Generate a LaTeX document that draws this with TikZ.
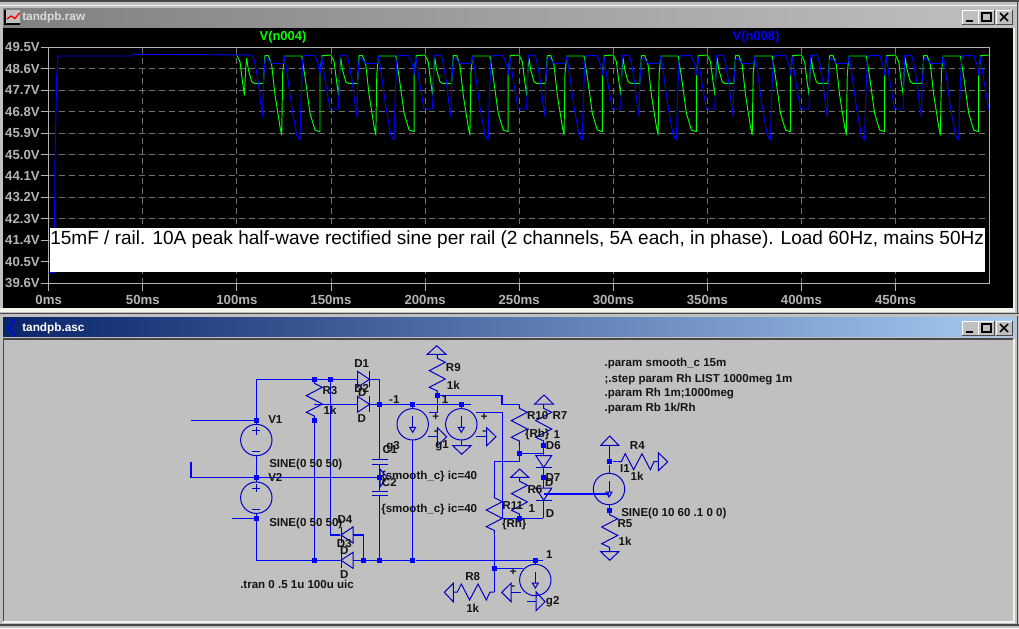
\documentclass[tikz,border=0pt]{standalone}
\usepackage{fontspec}
\setmainfont{Liberation Sans}
\definecolor{winbg}{HTML}{C0C0C0}
\definecolor{wireblue}{HTML}{0000FF}
\definecolor{partblue}{HTML}{0000C4}
\definecolor{framegray}{HTML}{B4B4B4}
\definecolor{griddash}{HTML}{707070}
\definecolor{cream}{HTML}{F4F2EA}
\definecolor{edgedark}{HTML}{484848}
\definecolor{titlelow}{HTML}{0A246A}
\definecolor{titlehigh}{HTML}{A6CAF0}
\definecolor{titledim}{HTML}{808080}
\tikzset{
    wire/.style={draw=wireblue,line width=1pt},
    part/.style={draw=partblue,line width=.75pt,line join=miter},
    dot/.style={rectangle,fill=wireblue,minimum size=3.8pt,inner sep=0pt},
    lbl/.style={font=\bfseries\fontsize{8.65}{10}\selectfont,text=black!92,inner sep=0pt},
    ticklbl/.style={font=\bfseries\fontsize{9.9}{11}\selectfont,text=framegray,inner sep=0pt},
    titlelbl/.style={font=\bfseries\fontsize{8.85}{10}\selectfont,inner sep=0pt,anchor=west},
    trace/.style={line width=.72pt,line join=round},
    gridline/.style={draw=griddash,line width=.75pt,dash pattern=on 5pt off 2.5pt},
    vres/.pic={\draw[part] (0,0) -- (0,4) -- (8,8) -- (-8,16.3) -- (8,24.7) -- (-8,33) -- (0,36.7) -- (0,41);},
    diode/.pic={\draw[part] (-6,-8) -- (6,0) -- (-6,8) -- cycle;
        \draw[part] (6,-8) -- (6,8);},
    vsrc/.pic={\draw[part,fill=winbg] (0,0) circle (15.7);
        \draw[part] (-4,-9.3) -- (4,-9.3);
        \draw[part] (0,-13.3) -- (0,-5.3);
        \draw[part] (-4,11.7) -- (4,11.7);},
    isrc/.pic={\draw[part,fill=winbg] (0,0) circle (15.7);
        \draw[part] (0,-8) -- (0,3);
        \draw[part] (-3,3) -- (3,3) -- (0,8) -- cycle;},
}
\newcommand{\greenrun}{(0,55) -- (3.3,61.7) -- (6,83.3) -- (7.7,95) -- (9,68.3) -- (10,58.3) -- (11.7,70) -- (15,81.7) -- (17.3,83.3) -- (26.7,83.3) -- (28.3,55.7) -- (31.7,55.7) -- (35,65) -- (38.3,95) -- (43.3,126.7) -- (45,135) -- (46,73.3) -- (47.7,56) -- (65,56) -- (68.3,76.7) -- (73.3,113.3) -- (78.3,130) -- (83.3,131.7) -- (83.3,73.3) -- (85.3,55.7) -- (94.1,55)}
\newcommand{\bluerun}{(0,55) -- (2.3,63.3) -- (5.7,83.3) -- (8,103.3) -- (10,116.7) -- (10.7,83.3) -- (12.3,60) -- (14,58) -- (19,63.3) -- (30.7,63.3) -- (31.7,56) -- (34,70) -- (39,106.7) -- (44,135) -- (47.3,140) -- (48.3,100) -- (50,60) -- (51.3,55.7) -- (62.3,55.7) -- (65.7,65) -- (67.3,75) -- (69,56.7) -- (72.3,80) -- (77.3,109) -- (85.7,109) -- (87.3,55.7) -- (94.1,55)}
\begin{document}
\begin{tikzpicture}[x=.75pt,y=-.75pt]
    \useasboundingbox (0,0) rectangle (1019,628);
    \fill[winbg] (0,0) rectangle (1019,628);
    % window frames
    \fill[edgedark] (0,0) rectangle (1019,2);
    \fill[cream] (0,4.7) rectangle (1017,6.3);
    \fill[edgedark] (1016.7,0) rectangle (1018,314);
    \fill[cream] (1012.7,28) rectangle (1015,312);
    \fill[cream] (0,308) rectangle (1015,312);
    \fill[edgedark] (0,312.5) rectangle (1019,314);
    \fill[edgedark] (1016.7,316) rectangle (1018,626);
    \fill[cream] (1012.7,339) rectangle (1015,622.7);
    \fill[cream] (3,620.7) rectangle (1015,622.7);
    \fill[edgedark] (0,624) rectangle (1019,626);
    \fill[edgedark] (3,338) rectangle (1013,339.5);
    \fill[edgedark] (3,338) rectangle (4.3,620.7);
    \shade[left color=titledim,right color=winbg] (3,8) rectangle (1015,27);
    \shade[left color=titlelow,right color=titlehigh] (3,317) rectangle (1015,336);
    % title bars
    \fill[winbg] (4,10) rectangle (20,25);
    \draw[black,line width=.8pt] (5,10) -- (5,24) -- (20,24);
    \draw[red,line width=1pt] (7,19) -- (11,16) -- (15,18.5) -- (19.5,13);
    \node[titlelbl,text=black!14] (rawtitle) at (22,17.5) {tandpb.raw};
    \draw[wireblue,line width=1pt] (15,320) .. controls (10,322) and (13,326) .. (8,328) .. controls (13,330) and (10,334) .. (16,335);
    \node[titlelbl,text=white] (asctitle) at (22,328) {tandpb.asc};
    \foreach \yb in {10,321} {
        \foreach \xb in {962,978,996} {
            \fill[winbg] (\xb,\yb) rectangle ++(16,14);
            \draw[white,line width=.75pt] (\xb,\yb+14) -- (\xb,\yb) -- (\xb+16,\yb);
            \draw[black!70,line width=.75pt] (\xb+16,\yb) -- (\xb+16,\yb+14) -- (\xb,\yb+14);
        }
        \draw[black,line width=1.4pt] (966,\yb+11) -- (973,\yb+11);
        \draw[black,line width=1pt] (982,\yb+3) rectangle (991,\yb+11);
        \draw[black,line width=1.2pt] (1000,\yb+3) -- (1008,\yb+11);
        \draw[black,line width=1.2pt] (1000,\yb+11) -- (1008,\yb+3);
    }
    % plot pane
    \fill[black] (3,28) rectangle (1012.7,308);
    \foreach \i in {1,...,10} {
        \pgfmathsetmacro\yy{floor(47.3+21.45*\i)+.5}
        \draw[gridline] (48.5,\yy) -- (989.5,\yy);
    }
    \foreach \i in {1,...,9} {
        \pgfmathsetmacro\xx{floor(48.7+94.1*\i)+.5}
        \draw[gridline] (\xx,47.5) -- (\xx,283.5);
    }
    \draw[framegray,line width=.75pt] (48.5,47.5) rectangle (989.5,283.5);
    \foreach \i/\v in {0/49.5,1/48.6,2/47.7,3/46.8,4/45.9,5/45.0,6/44.1,7/43.2,8/42.3,9/41.4,10/40.5,11/39.6} {
        \pgfmathsetmacro\yy{floor(47.3+21.45*\i)+.5}
        \draw[framegray,line width=.75pt] (40.5,\yy) -- (48.5,\yy);
        \node[ticklbl,anchor=east] (yt\i) at (40,47.3+21.45*\i) {\v V};
    }
    \foreach \i/\v in {0/0,1/50,2/100,3/150,4/200,5/250,6/300,7/350,8/400,9/450} {
        \pgfmathsetmacro\xx{floor(48.7+94.1*\i)+.5}
        \draw[framegray,line width=.75pt] (\xx,283.5) -- (\xx,290.7);
        \node[ticklbl] (xt\i) at (48.7+94.1*\i,299.5) {\v ms};
    }
    \begin{scope}
        \clip (48.7,47.3) rectangle (989.7,283.3);
        \foreach \k in {0,...,7} {
            \begin{scope}[shift={(236.7+94.1*\k,0)}]
                \draw[trace,green] \greenrun;
            \end{scope}
        }
        \draw[trace,wireblue] (48.7,272.7) -- (54.3,272.7) -- (55,156) -- (56,113) -- (56.7,76) -- (58,56) -- (133,56) -- (134,54.3) -- (252.7,55);
        \foreach \k in {0,...,7} {
            \begin{scope}[shift={(252.7+94.1*\k,0)}]
                \draw[trace,wireblue] \bluerun;
            \end{scope}
        }
    \end{scope}
    \node[font=\bfseries\fontsize{9.7}{11}\selectfont,text=green,inner sep=0pt] (vn4) at (283,37) {V(n004)};
    \node[font=\bfseries\fontsize{9.7}{11}\selectfont,text=wireblue,inner sep=0pt] (vn8) at (756,37) {V(n008)};
    \fill[white] (49.5,228.3) rectangle (985,271.7);
    \node[font=\fontsize{14.28}{16}\selectfont,anchor=west,inner sep=0pt] (note) at (50,240) {15mF / rail. 10A peak half-wave rectified sine per rail (2 channels, 5A each, in phase). Load 60Hz, mains 50Hz};
    % junctions
    \node[dot] (jV1) at (256.3,420.3) {};
    \node[dot] (jV2) at (256.3,477.3) {};
    \node[dot] (jV3) at (256.3,518.3) {};
    \node[dot] (jT1) at (314.3,379.3) {};
    \node[dot] (jT2) at (330.3,379.3) {};
    \node[dot] (jR3) at (314.3,420.3) {};
    \node[dot] (jB1) at (314.3,560.3) {};
    \node[dot] (jB2) at (363.3,560.3) {};
    \node[dot] (jB3) at (379.3,560.3) {};
    \node[dot] (jB4) at (412.7,560.3) {};
    \node[dot] (jB5) at (535.3,560.3) {};
    \node[dot] (jP1) at (379.3,404.3) {};
    \node[dot] (jG3) at (412.7,404.3) {};
    \node[dot] (jG1) at (461.3,404.3) {};
    \node[dot] (jR9) at (437.3,395.3) {};
    \node[dot] (jC) at (379.3,477.3) {};
    \node[dot] (jR10) at (519.3,453.3) {};
    \node[dot] (jD6) at (543.3,445.3) {};
    \node[dot] (jD7) at (543.3,477.3) {};
    \node[dot] (jR6) at (519.3,518.3) {};
    \node[dot] (jR11) at (494.3,568.3) {};
    \node[dot] (jI1) at (609.7,461.7) {};
    \node[dot] (jI2) at (609.7,510.7) {};
    % free wire ends
    \coordinate (cVa) at (191,420.3);
    \coordinate (cVb) at (191,461.7);
    \coordinate (cVc) at (232.3,518.3);
    \coordinate (cD1a) at (357.7,379.3);
    \coordinate (cD1k) at (369.3,379.3);
    \coordinate (cR3w) at (314.3,404.3);
    \coordinate (cD2a) at (357.7,404.3);
    \coordinate (cD2k) at (369.3,404.3);
    \coordinate (cD3k) at (340,560.3);
    \coordinate (cD3a) at (353.3,560.3);
    \coordinate (cD4k) at (340,535);
    \coordinate (cD4a) at (353.3,535);
    \coordinate (cEnd) at (543.3,560.3);
    \coordinate (cC1a) at (379.3,459.3);
    \coordinate (cC1b) at (379.3,464);
    \coordinate (cC2a) at (379.3,491.7);
    \coordinate (cC2b) at (379.3,495.7);
    \coordinate (cRail) at (471,404.3);
    \coordinate (cG1g) at (461.3,445.7);
    \coordinate (cG3p) at (429.3,412.7);
    \coordinate (cG1p) at (476,412.7);
    \coordinate (cR10t) at (519.3,404.3);
    \coordinate (cR10b) at (519.3,445.3);
    \coordinate (cD7k) at (543.3,518.3);
    \coordinate (cR11t) at (494.3,493.7);
    \coordinate (cR11b) at (494.3,534.7);
    \coordinate (cR8r) at (494.3,592);
    \coordinate (cG2p) at (523.3,568.3);
    \coordinate (cG2b) at (535.3,596);
    % wires
    \draw[wire] (cVa) -- (jV1) |- (jT1) -- (jT2) -- (cD1a);
    \draw[wire] (cD1k) -| (jP1);
    \draw[wire] (cR3w) -- (cD2a);
    \draw[wire] (cD2k) -- (jP1) -- (jG3) -- (jG1) -- (cRail);
    \draw[wire] (jR3) -- (jB1);
    \draw[wire] (jT2) |- (cD4k);
    \draw[wire] (cVb) |- (jV2) -- (jC);
    \draw[wire] (jV1) -- (jV2) -- (jV3);
    \draw[wire] (cVc) -- (jV3) |- (jB1) -- (cD3k);
    \draw[wire] (cD3a) -- (jB2) -- (jB3) -- (jB4) -- (jB5) -- (cEnd);
    \draw[wire] (cD4a) -| (jB2);
    \draw[wire] (jP1) -- (cC1a);
    \draw[wire] (cC1b) -- (jC) -- (cC2a);
    \draw[wire] (cC2b) -- (jB3);
    \draw[wire] (jG3) -- (jB4);
    \draw[wire] (jG1) -- (cG1g);
    \draw[wire] (jR9) |- (cG3p);
    \draw[wire] (jR9) -| (502,404.3) -- (cR10t);
    \draw[wire] (cR10b) -- (jR10) -- (543.3,453.3);
    \draw[wire] (jD6) -- (543.3,455.7);
    \draw[wire] (cG1p) -- (502.3,412.7) -- (502.3,518.3) -- (jR6) -- (cD7k);
    \draw[wire] (543.3,467.3) -- (jD7) -- (543.3,488.3);
    \draw[wire] (543.3,500) -- (cD7k);
    \draw[wire] (jR10) |- (494.3,461.7) -- (cR11t);
    \draw[wire] (cR11b) -- (jR11) -- (cR8r);
    \draw[wire] (jR11) -- (cG2p);
    \draw[wire] (jB5) -- (cG2b);
    \draw[wire] (jI1) -- (jI2);
    \draw[wire] (jI1) -- (617.3,461.7);
    % parts
    \pic at (256.3,440) {vsrc};
    \pic at (256.3,497.7) {vsrc};
    \pic at (412.7,424.3) {isrc};
    \pic at (461.3,424.3) {isrc};
    \pic at (535.3,580) {isrc};
    \pic at (609,489) {isrc};
    \draw[wire] (543.7,494) -- (609.3,494);
    \pic at (314.3,379.3) {vres};
    \pic at (437.3,354.3) {vres};
    \pic at (519.3,404.3) {vres};
    \pic at (543.7,404.3) {vres};
    \pic at (519.5,477.3) {vres};
    \pic at (494.3,493.7) {vres};
    \pic at (609.7,510.7) {vres};
    \pic[rotate=90] at (617.3,461.7) {vres};
    \pic[rotate=90] at (453.3,592) {vres};
    \pic at (363.5,379.3) {diode};
    \pic at (363.5,404.3) {diode};
    \pic[rotate=180] at (347,535) {diode};
    \pic[rotate=180] at (347,560.3) {diode};
    \pic[rotate=-90] at (543.7,461.5) {diode};
    \pic[rotate=-90] at (543.7,494.2) {diode};
    \draw[part] (371.7,459.3) -- (388.3,459.3);
    \draw[part] (371.7,464) -- (388.3,464);
    \draw[part] (371.7,491.7) -- (388.3,491.7);
    \draw[part] (371.7,495.7) -- (388.3,495.7);
    % grounds
    \draw[part] (427.3,354.3) -- (446,354.3) -- (436.7,345.7) -- cycle;
    \draw[part] (534.7,404) -- (553.3,404) -- (544,395) -- cycle;
    \draw[part] (510.7,477.3) -- (528.7,477.3) -- (519.7,469) -- cycle;
    \draw[part] (600.7,445.3) -- (618.7,445.3) -- (609.7,436) -- cycle;
    \draw[part] (609.7,445.3) -- (jI1);
    \draw[part] (600.7,551.7) -- (618.7,551.7) -- (609.7,560.3) -- cycle;
    \draw[part] (452.7,445.7) -- (471,445.7) -- (461.7,454.3) -- cycle;
    \draw[part] (437.3,427.7) -- (446.7,436.7) -- (437.3,445.7) -- cycle;
    \draw[part] (428,436.7) -- (437.3,436.7);
    \draw[part] (486.7,427.7) -- (496,436.7) -- (486.7,445.7) -- cycle;
    \draw[part] (476,436.7) -- (486.7,436.7);
    \draw[part] (380,469) -- (387,477.3) -- (380,487) -- cycle;
    \draw[part] (658.3,452.7) -- (667.7,461.7) -- (658.3,470.7) -- cycle;
    \draw[part] (453.3,583.3) -- (444.3,592.3) -- (453.3,601.7) -- cycle;
    \draw[part] (511,583.3) -- (501.7,592.3) -- (511,601.7) -- cycle;
    \draw[part] (511,592.3) -- (520.7,592.3);
    \draw[part] (536,591.7) -- (545,601.7) -- (536,610.7) -- cycle;
    \draw[part] (527.3,601.7) -- (536,601.7);
    % signs
    \node[lbl] (pG3) at (435.7,416.7) {+};
    \node[lbl] (mG3) at (435.7,432.3) {-};
    \node[lbl] (pG1) at (484.3,416.7) {+};
    \node[lbl] (mG1) at (484.3,432.3) {-};
    \node[lbl] (pG2) at (513.3,572.3) {+};
    \node[lbl] (mG2) at (513.3,587.3) {-};
    % labels
    \node[lbl] (lD1) at (361.7,364) {D1};
    \node[lbl] (lD2) at (361.7,388) {D2};
    \node[lbl] (lD1v) at (362.3,393) {D};
    \node[lbl] (lD2v) at (361.7,419) {D};
    \node[lbl] (lR3) at (330,391) {R3};
    \node[lbl] (lR3v) at (330,410) {1k};
    \node[lbl] (lV1) at (275.3,420) {V1};
    \node[lbl,anchor=west] (lV1v) at (269,465) {SINE(0 50 50)};
    \node[lbl] (lV2) at (275.3,477) {V2};
    \node[lbl,anchor=west] (lV2v) at (269,523.3) {SINE(0 50 50)};
    \node[lbl] (lG3v) at (394.3,399.3) {-1};
    \node[lbl] (lC1) at (390,449.3) {C1};
    \node[lbl] (lG3) at (393,447) {g3};
    \node[lbl,anchor=west] (lC1v) at (381,477) {\{smooth\_c\} ic=40};
    \node[lbl] (lC2) at (389.3,482.7) {C2};
    \node[lbl,anchor=west] (lC2v) at (381,510) {\{smooth\_c\} ic=40};
    \node[lbl] (lD4) at (345,520) {D4};
    \node[lbl] (lD3) at (344.3,543.3) {D3};
    \node[lbl] (lD4v) at (344.3,550.7) {D};
    \node[lbl] (lD3v) at (344.3,575) {D};
    \node[lbl,anchor=west] (ltran) at (240,584.5) {.tran 0 .5 1u 100u uic};
    \node[lbl] (lR9) at (453.3,367.3) {R9};
    \node[lbl] (lR9v) at (453.3,385.7) {1k};
    \node[lbl] (lG1v) at (445,399.3) {1};
    \node[lbl] (lG1) at (442,445.3) {g1};
    \node[lbl] (lR10) at (537.7,416) {R10};
    \node[lbl] (lR7) at (560,416) {R7};
    \node[lbl] (lR10v) at (537.3,435) {\{Rb\}};
    \node[lbl] (lR7v) at (556.7,434.3) {1};
    \node[lbl] (lD6) at (553.3,445.3) {D6};
    \node[lbl] (lD7) at (553,477.3) {D7};
    \node[lbl] (lD6v) at (549.2,482.3) {D};
    \node[lbl] (lR6) at (535,490) {R6};
    \node[lbl] (lR6v) at (531.7,508.3) {1};
    \node[lbl] (lD7v) at (550,514) {D};
    \node[lbl] (lR11) at (512.7,506) {R11};
    \node[lbl] (lR11v) at (514.3,525) {\{Rh\}};
    \node[lbl] (lG2v) at (549.3,555) {1};
    \node[lbl] (lR8) at (472.7,576.7) {R8};
    \node[lbl] (lR8v) at (472.7,608.3) {1k};
    \node[lbl] (lG2) at (552.7,601.7) {g2};
    \node[lbl] (lR4) at (637.3,446) {R4};
    \node[lbl] (lI1) at (625,469) {I1};
    \node[lbl] (lR4v) at (637,476) {1k};
    \node[lbl,anchor=west] (lI1v) at (621,514) {SINE(0 10 60 .1 0 0)};
    \node[lbl] (lR5) at (625,523.3) {R5};
    \node[lbl] (lR5v) at (625,541) {1k};
    \node[lbl,anchor=west] (dirA) at (604.3,363.3) {.param smooth\_c 15m};
    \node[lbl,anchor=west] (dirB) at (604.3,379.3) {;.step param Rh LIST 1000meg 1m};
    \node[lbl,anchor=west] (dirC) at (604.3,393.7) {.param Rh 1m;1000meg};
    \node[lbl,anchor=west] (dirD) at (604.3,408.3) {.param Rb 1k/Rh};
\end{tikzpicture}
\end{document}
